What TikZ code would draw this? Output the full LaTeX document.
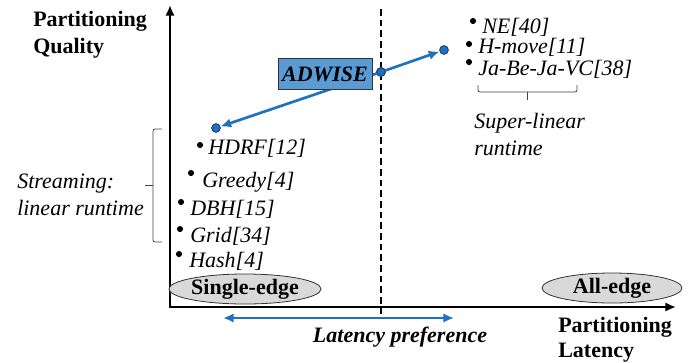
\documentclass[tikz,border=0pt]{standalone}
\usepackage{fontspec}
\setmainfont{Liberation Serif}
\usetikzlibrary{arrows.meta,shapes.geometric}
\definecolor{boxblue}{HTML}{5B9BD5}
\definecolor{arrblue}{HTML}{1F70C1}
\definecolor{dotedge}{HTML}{1A3A66}
\definecolor{ellgray}{HTML}{D9D9D9}
\begin{document}
\begin{tikzpicture}[x=0.75pt,y=-0.75pt,
  txt/.style={font=\fontsize{16.5}{19}\selectfont, anchor=base west, inner sep=0pt},
  lbl/.style={txt, font=\fontsize{16.5}{19}\selectfont\itshape},
  bold/.style={txt, font=\fontsize{16.5}{19}\selectfont\bfseries},
  dot/.style={circle, fill=black, inner sep=0pt, minimum size=4.6pt},
  bdot/.style={circle, fill=arrblue, draw=dotedge, line width=0.6pt, inner sep=0pt, minimum size=6.6pt},
  axis/.style={line width=2.1pt, -{Latex[length=8pt,width=7pt]}},
  barr/.style={arrblue, line width=2pt, -{Latex[length=8pt,width=7pt]}},
  ell/.style={ellipse, draw=black!80, line width=0.6pt, fill=ellgray, inner sep=0pt,
              minimum width=105pt, minimum height=22.5pt,
              font=\fontsize{16.5}{19}\selectfont\bfseries},
  bracket/.style={draw=black!75, line width=0.6pt, rounded corners=1.5pt}]
\useasboundingbox (0,0) rectangle (688,362);

% axes
\coordinate (O) at (170,307);
\coordinate (ytop) at (170,5);
\coordinate (xend) at (676,307);
\draw[axis] (O) -- (ytop);
\draw[axis] ([xshift=-0.75pt]O) -- (xend);

% dashed divider
\coordinate (dtop) at (381,9);
\coordinate (dbot) at (381,318);
\draw[dashed, line width=0.9pt, dash pattern=on 5pt off 3pt] (dtop) -- (dbot);

% axis titles
\node[bold] (yq1) at (33,26) {Partitioning};
\node[bold] (yq2) at (33,53) {Quality};
\node[bold] (xl1) at (558,332) {Partitioning};
\node[bold] (xl2) at (558,357) {Latency};

% blue dots and arrows
\node[bdot] (bmid) at (381,72) {};
\node[bdot] (bleft) at (216,128) {};
\node[bdot] (bright) at (444,50) {};
\draw[barr] (bmid) -- (bleft);
\draw[barr] (bmid) -- (bright);
\node[draw=black!80, line width=0.7pt, fill=boxblue, minimum width=70.5pt, minimum height=23pt,
      inner sep=0pt, font=\fontsize{16.5}{19}\selectfont\bfseries\itshape] (adwise) at (325,74) {ADWISE};
\node[bdot] at (bmid) {};

% streaming algorithms
\node[dot] (d1) at (200,145) {};
\node[lbl] (t1) at (208,154) {HDRF[12]};
\node[dot] (d2) at (191,173) {};
\node[lbl] (t2) at (202,187) {Greedy[4]};
\node[dot] (d3) at (181,202) {};
\node[lbl] (t3) at (190,215) {DBH[15]};
\node[dot] (d4) at (180,229) {};
\node[lbl] (t4) at (190,242) {Grid[34]};
\node[dot] (d5) at (179,254) {};
\node[lbl] (t5) at (189,267) {Hash[4]};

% super-linear algorithms
\node[dot] (e1) at (473,21) {};
\node[lbl] (u1) at (482,33) {NE[40]};
\node[dot] (e2) at (469,44) {};
\node[lbl] (u2) at (478,53) {H-move[11]};
\node[dot] (e3) at (469,62) {};
\node[lbl] (u3) at (478,75) {Ja-Be-Ja-VC[38]};

% brackets
\coordinate (b1a) at (478,85);
\coordinate (b1b) at (577,85);
\coordinate (b1m) at (527.5,100);
\draw[bracket] (b1a) -- (478,92) -- (577,92) -- (b1b);
\draw[bracket] (527.5,92) -- (b1m);
\node[lbl] (s1) at (474,128) {Super-linear};
\node[lbl] (s2) at (474,155) {runtime};

\coordinate (b2a) at (162,129);
\coordinate (b2b) at (162,242);
\coordinate (b2m) at (145,185.5);
\draw[bracket] (b2a) -- (153,129) -- (153,242) -- (b2b);
\draw[bracket] (153,185.5) -- (b2m);
\node[lbl] (st1) at (17,188) {Streaming:};
\node[lbl] (st2) at (17,215) {linear runtime};

% ellipses
\node[ell] (single) at (245,289) {Single-edge};
\node[ell] (alle) at (612,288) {All-edge};

% latency preference
\coordinate (lp1) at (223,318);
\coordinate (lp2) at (454,318);
\draw[arrblue, line width=2pt, {Latex[length=8pt,width=7pt]}-{Latex[length=8pt,width=7pt]}] (lp1) -- (lp2);
\node[txt, font=\fontsize{16.5}{19}\selectfont\bfseries\itshape, anchor=base] (lpt) at (400,342) {Latency preference};
\end{tikzpicture}
\end{document}
